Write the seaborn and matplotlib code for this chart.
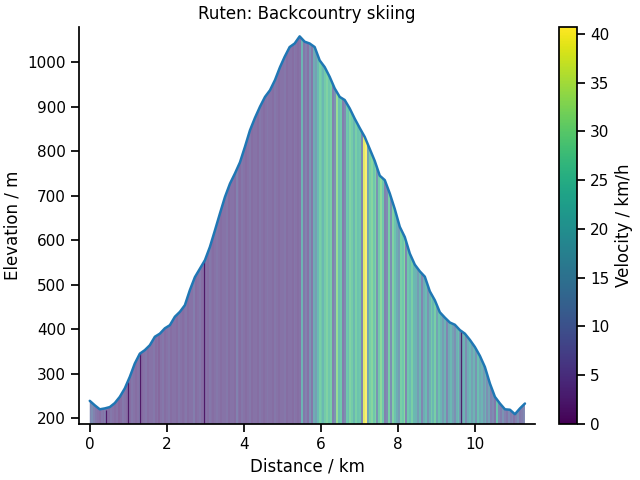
import numpy as np
import pandas as pd
import matplotlib
matplotlib.use("Agg")
import matplotlib.pyplot as plt
import seaborn as sns
from matplotlib.patches import Polygon
from matplotlib.colors import Normalize
from matplotlib.cm import ScalarMappable

# ---- data ----
distance_km = [0.00, 0.13, 0.26, 0.39, 0.52, 0.65, 0.78, 0.91, 1.04, 1.17,
               1.30, 1.43, 1.56, 1.69, 1.82, 1.95, 2.08, 2.21, 2.34, 2.47,
               2.60, 2.73, 2.86, 2.99, 3.12, 3.25, 3.38, 3.51, 3.64, 3.77,
               3.90, 4.03, 4.16, 4.29, 4.42, 4.55, 4.68, 4.81, 4.94, 5.06,
               5.19, 5.32, 5.45, 5.58, 5.71, 5.84, 5.97, 6.10, 6.23, 6.36,
               6.49, 6.62, 6.75, 6.88, 7.01, 7.14, 7.27, 7.40, 7.53, 7.66,
               7.79, 7.92, 8.05, 8.18, 8.31, 8.44, 8.57, 8.70, 8.83, 8.96,
               9.09, 9.22, 9.35, 9.48, 9.61, 9.74, 9.87, 10.00, 10.13, 10.26,
               10.39, 10.52, 10.65, 10.78, 10.91, 11.04, 11.17, 11.30]
elevation_m = [239, 229, 220, 222, 225, 234, 248, 267, 293, 323,
               345, 353, 364, 383, 390, 402, 409, 428, 439, 454,
               488, 517, 536, 555, 585, 622, 660, 697, 727, 750,
               775, 810, 847, 875, 900, 922, 937, 960, 989, 1012,
               1034, 1042, 1058, 1046, 1042, 1034, 1004, 989, 967, 941,
               922, 915, 896, 873, 852, 832, 805, 778, 745, 735,
               705, 670, 630, 607, 570, 545, 530, 518, 485, 465,
               438, 426, 415, 410, 398, 390, 376, 360, 340, 315,
               278, 248, 233, 220, 219, 209, 222, 233]

# velocity sampled every 0.05 km from 0 to 11.30 km
velocity_kmh = [9, 11, 8, 6, 5, 4, 6, 5, 7, 5,
                4, 6, 5, 4, 5, 3, 4, 6, 5, 4,
                5, 4, 6, 5, 4, 5, 7, 4, 5, 6,
                4, 5, 5, 6, 4, 5, 3, 5, 6, 4,
                5, 6, 4, 5, 5, 4, 6, 5, 4, 5,
                6, 4, 5, 5, 7, 4, 5, 6, 4, 5,
                5, 4, 6, 5, 4, 5, 6, 5, 4, 5,
                5, 6, 4, 5, 5, 4, 8, 5, 4, 6,
                5, 4, 5, 6, 4, 5, 5, 4, 6, 5,
                4, 5, 6, 5, 5, 4, 6, 5, 4, 5,
                5, 6, 4, 5, 5, 4, 6, 5, 4, 5,
                20,
                6, 8, 5, 12, 6,
                18, 15, 22,
                27, 25,
                21,
                26, 28, 25, 27,
                8, 12,
                31,
                23, 25,
                7, 10,
                25, 23, 28, 26, 21, 27, 24, 25,
                9,
                38, 40.7,
                16,
                27, 29, 25, 28,
                12,
                26, 30, 25,
                8, 10,
                27,
                11,
                28, 24,
                18, 14,
                27, 25, 29,
                9,
                25, 22, 27, 21,
                20, 14, 21, 9, 18, 22, 12, 19,
                26, 21, 27, 16, 24, 20,
                14, 20, 9, 18, 21, 15, 11, 19, 23, 13, 17, 20, 10,
                18, 21, 15, 20, 12, 23, 17, 20, 14, 19, 11, 16,
                8, 10, 6, 24, 9, 7, 12, 8, 6, 10, 7, 9, 5, 8, 11, 6, 7, 9, 8]

# stops (speed ~0), drawn as dark lines
stop_km = [0.42, 1.00, 1.31, 2.97, 9.65]
stop_elev_m = [218, 282, 349, 555, 398]

# ---- style ----
sns.set_theme(style="ticks", context="notebook")
plt.rcParams['font.family'] = ['DejaVu Sans']
for k in ["text.color", "axes.labelcolor", "xtick.color", "ytick.color", "axes.edgecolor"]:
    plt.rcParams[k] = "black"

fig = plt.figure(figsize=(6.4, 4.8), dpi=100)
ax = fig.add_axes([0.1234, 0.1167, 0.7125, 0.827])
cax = fig.add_axes([0.8734, 0.1167, 0.0281, 0.827])

ybot, ytop = 187, 1079
xl, xr = -0.28, 11.56
cmap = plt.get_cmap("viridis")
vmax = max(velocity_kmh)
norm = Normalize(vmin=0, vmax=vmax)

vel = np.asarray(velocity_kmh, dtype=float)
step = distance_km[-1] / (len(vel) - 1)
im = ax.imshow(vel[np.newaxis, :], extent=(distance_km[0] - step / 2, distance_km[-1] + step / 2, ybot, ytop),
               aspect="auto", cmap=cmap, norm=norm, alpha=0.66, interpolation="nearest", origin="lower")
verts = [(distance_km[0], ybot)] + list(zip(distance_km, elevation_m)) + [(distance_km[-1], ybot)]
poly = Polygon(verts, closed=True, facecolor="none", edgecolor="none")
ax.add_patch(poly)
im.set_clip_path(poly)

ax.vlines(stop_km, ybot, stop_elev_m, colors=[cmap(0.02)], linewidth=0.9, alpha=0.85)

df = pd.DataFrame({"Distance": distance_km, "Elevation": elevation_m})
sns.lineplot(data=df, x="Distance", y="Elevation", ax=ax, color="#1f77b4", linewidth=1.8)

ax.set_xlim(xl, xr)
ax.set_ylim(ybot, ytop)
ax.set_xlabel("Distance / km")
ax.set_ylabel("Elevation / m")
ax.set_title("Ruten: Backcountry skiing")
sns.despine(ax=ax)

sm = ScalarMappable(norm=norm, cmap=cmap)
sm.set_array([])
cb = fig.colorbar(sm, cax=cax)
cb.set_label("Velocity / km/h")

fig.savefig("out.png", dpi=100)
